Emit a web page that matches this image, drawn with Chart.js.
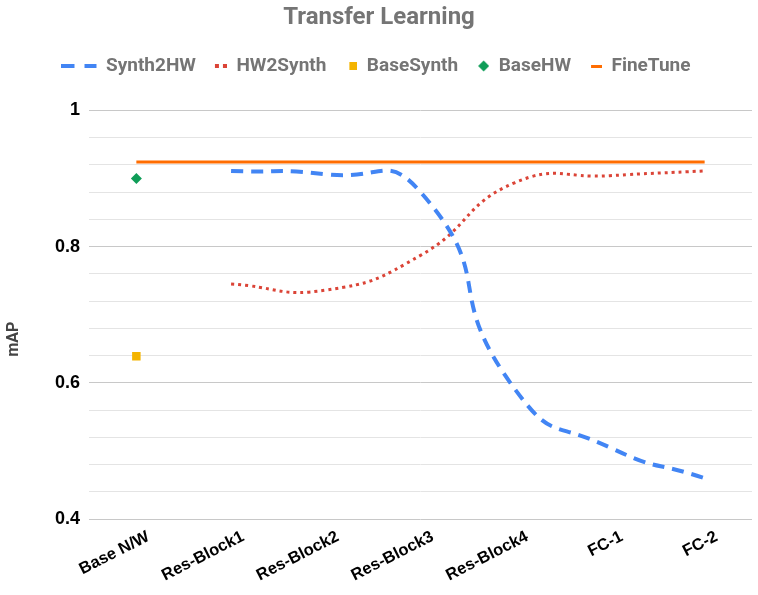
<!DOCTYPE html>
<html>
<head>
<meta charset="utf-8">
<script src="https://cdn.jsdelivr.net/npm/chart.js@4.4.1/dist/chart.umd.min.js"></script>
<style>
  html, body { margin: 0; padding: 0; background: #fff; }
  #chart { display: block; }
</style>
</head>
<body>
<canvas id="chart" width="758" height="595"></canvas>
<script>
const categories = ["Base N/W", "Res-Block1", "Res-Block2", "Res-Block3", "Res-Block4", "FC-1", "FC-2"];
const synth2hw = [null, 0.911, 0.906, 0.88, 0.59, 0.505, 0.46];
const hw2synth = [null, 0.745, 0.736, 0.787, 0.894, 0.904, 0.911];
const baseSynth = [0.639, null, null, null, null, null, null];
const baseHW = [0.9, null, null, null, null, null, null];
const fineTune = [0.924, 0.924, 0.924, 0.924, 0.924, 0.924, 0.924];
const yTickLabels = [0.4, 0.6, 0.8, 1];

// small canvases used as legend markers (right-aligned in a 29px box)
function marker(w, h, draw) {
    const c = document.createElement("canvas");
    c.width = w;
    c.height = h;
    draw(c.getContext("2d"));
    return c;
}

const legendMarkers = [
    marker(41, 4, g => {
        g.fillStyle = "#4285f4";
        g.fillRect(0, 0, 13, 4);
        g.fillRect(23, 0, 12, 4);
    }),
    marker(29, 4, g => {
        g.fillStyle = "#db4437";
        g.fillRect(17, 0, 4, 4);
        g.fillRect(25, 0, 4, 4);
    }),
    marker(29, 8, g => {
        g.fillStyle = "#f4b400";
        g.fillRect(21, 0, 8, 8);
    }),
    marker(29, 12, g => {
        g.fillStyle = "#0f9d58";
        g.beginPath();
        g.moveTo(23.5, 0.5);
        g.lineTo(29, 6);
        g.lineTo(23.5, 11.5);
        g.lineTo(18, 6);
        g.closePath();
        g.fill();
    }),
    marker(29, 3, g => {
        g.fillStyle = "#ff6d01";
        g.fillRect(18, 0, 11, 3);
    })
];

function isMajor(v) {
    return yTickLabels.some(t => Math.abs(t - v) < 1e-6);
}

new Chart(document.getElementById("chart"), {
    type: "line",
    data: {
        labels: categories,
        datasets: [
            {
                label: "Synth2HW",
                data: synth2hw,
                borderColor: "#4285f4",
                borderWidth: 4,
                borderDash: [12, 8],
                tension: 0.6,
                pointRadius: 0
            },
            {
                label: "HW2Synth",
                data: hw2synth,
                borderColor: "#db4437",
                borderWidth: 3,
                borderDash: [3, 4],
                tension: 0.5,
                pointRadius: 0
            },
            {
                label: "BaseSynth",
                data: baseSynth,
                showLine: false,
                pointStyle: "rect",
                pointRadius: 6,
                pointBorderWidth: 0,
                backgroundColor: "#f4b400",
                borderColor: "#f4b400"
            },
            {
                label: "BaseHW",
                data: baseHW,
                showLine: false,
                pointStyle: "rectRot",
                pointRadius: 5.5,
                pointBorderWidth: 0,
                backgroundColor: "#0f9d58",
                borderColor: "#0f9d58"
            },
            {
                label: "FineTune",
                data: fineTune,
                borderColor: "#ff6d01",
                borderWidth: 3,
                tension: 0,
                pointRadius: 0
            }
        ]
    },
    options: {
        responsive: false,
        animation: false,
        devicePixelRatio: 1,
        layout: { padding: 0 },
        plugins: {
            tooltip: { enabled: false },
            title: {
                display: true,
                text: "Transfer Learning",
                color: "#757575",
                font: { family: "Roboto", weight: "bold", size: 24 },
                padding: { top: 4, bottom: 21.7 }
            },
            legend: {
                labels: {
                    usePointStyle: true,
                    pointStyleWidth: 29,
                    padding: 2,
                    color: "#757575",
                    font: { family: "Roboto", weight: "bold", size: 19 },
                    generateLabels(chart) {
                        const items = Chart.defaults.plugins.legend.labels.generateLabels(chart);
                        items.forEach((it, i) => { it.pointStyle = legendMarkers[i]; });
                        return items;
                    }
                }
            },
            // empty spacer below the legend
            subtitle: {
                display: true,
                text: " ",
                weight: 500,
                font: { size: 1 },
                padding: { top: 0, bottom: 23.6 }
            }
        },
        scales: {
            x: {
                offset: true,
                grid: { display: false, drawTicks: false },
                border: { display: false },
                ticks: {
                    autoSkip: false,
                    minRotation: 27,
                    maxRotation: 27,
                    padding: 8,
                    labelOffset: 12,
                    color: "#000",
                    font: { family: "Liberation Sans", weight: "bold", size: 16.5 }
                },
                afterFit: s => { s.height = 76; }
            },
            y: {
                min: 0.4,
                max: 1,
                border: { display: false },
                grid: {
                    drawTicks: false,
                    color: ctx => isMajor(ctx.tick.value) ? "#c8c8c8" : "#e4e4e4"
                },
                ticks: {
                    stepSize: 0.04,
                    autoSkip: false,
                    padding: 9,
                    color: "#000",
                    font: { family: "Liberation Sans", weight: "bold", size: 18 },
                    callback: v => isMajor(v) ? (Math.abs(v - 1) < 1e-6 ? "1" : v.toFixed(1)) : ""
                },
                title: {
                    display: true,
                    text: "mAP\u2003\u2003\u2003",
                    color: "#444",
                    font: { family: "Roboto", weight: "bold", size: 16 },
                    padding: { top: 4, bottom: 0 }
                },
                afterFit: s => { s.width = 89; }
            }
        }
    }
});
</script>
</body>
</html>
